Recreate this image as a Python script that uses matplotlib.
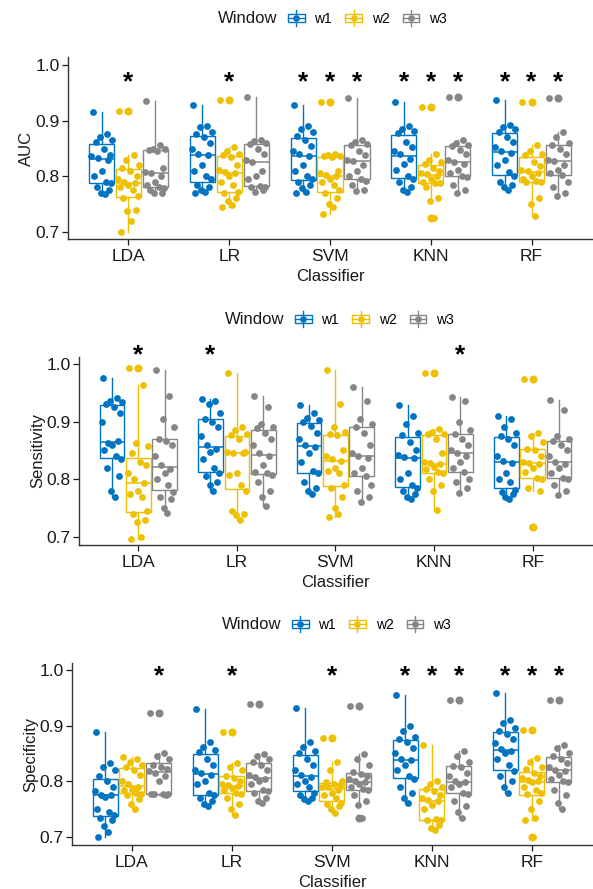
import matplotlib
matplotlib.use('Agg')
import matplotlib.pyplot as plt
from matplotlib.legend_handler import HandlerBase
from matplotlib.patches import Rectangle
from matplotlib.lines import Line2D

plt.rcParams['font.family'] = ['Liberation Sans', 'DejaVu Sans']

classifiers = ['LDA', 'LR', 'SVM', 'KNN', 'RF']
windows = ['w1', 'w2', 'w3']
colors = ['#0073C2', '#EFC000', '#868686']

# AUC per classifier (LDA, LR, SVM, KNN, RF)
auc_w1 = [
    [0.915, 0.876, 0.870, 0.866, 0.862, 0.850, 0.838, 0.836, 0.833, 0.830, 0.810, 0.800, 0.790, 0.788, 0.780, 0.775, 0.770, 0.768],
    [0.929, 0.890, 0.888, 0.880, 0.876, 0.870, 0.860, 0.850, 0.840, 0.838, 0.820, 0.810, 0.800, 0.795, 0.785, 0.780, 0.775, 0.772, 0.770],
    [0.929, 0.890, 0.885, 0.880, 0.872, 0.865, 0.855, 0.845, 0.840, 0.836, 0.820, 0.810, 0.800, 0.795, 0.790, 0.785, 0.778, 0.772, 0.770],
    [0.934, 0.890, 0.886, 0.882, 0.878, 0.862, 0.852, 0.845, 0.840, 0.832, 0.822, 0.812, 0.800, 0.795, 0.790, 0.780, 0.775, 0.771],
    [0.937, 0.892, 0.888, 0.886, 0.880, 0.870, 0.862, 0.852, 0.846, 0.842, 0.830, 0.820, 0.808, 0.800, 0.790, 0.785, 0.780, 0.775],
]
auc_w2 = [
    [0.918, 0.838, 0.830, 0.820, 0.815, 0.810, 0.800, 0.795, 0.790, 0.788, 0.785, 0.780, 0.775, 0.765, 0.760, 0.740, 0.738, 0.720, 0.700],
    [0.938, 0.853, 0.845, 0.840, 0.838, 0.835, 0.820, 0.812, 0.808, 0.805, 0.800, 0.790, 0.785, 0.772, 0.770, 0.760, 0.755, 0.748, 0.745],
    [0.934, 0.840, 0.838, 0.837, 0.836, 0.835, 0.810, 0.805, 0.803, 0.800, 0.795, 0.790, 0.785, 0.775, 0.770, 0.760, 0.750, 0.745, 0.732],
    [0.924, 0.840, 0.830, 0.825, 0.822, 0.815, 0.810, 0.806, 0.804, 0.800, 0.795, 0.790, 0.788, 0.787, 0.780, 0.760, 0.755, 0.725],
    [0.934, 0.857, 0.845, 0.840, 0.838, 0.825, 0.818, 0.812, 0.809, 0.806, 0.800, 0.795, 0.791, 0.790, 0.789, 0.760, 0.750, 0.728],
]
auc_w3 = [
    [0.935, 0.856, 0.850, 0.849, 0.848, 0.845, 0.815, 0.808, 0.805, 0.800, 0.790, 0.785, 0.780, 0.778, 0.775, 0.770, 0.770],
    [0.942, 0.866, 0.863, 0.860, 0.858, 0.850, 0.840, 0.830, 0.826, 0.810, 0.800, 0.795, 0.782, 0.780, 0.780, 0.775, 0.771],
    [0.941, 0.865, 0.862, 0.858, 0.856, 0.845, 0.838, 0.830, 0.827, 0.820, 0.810, 0.800, 0.795, 0.792, 0.785, 0.775, 0.773],
    [0.943, 0.866, 0.860, 0.857, 0.855, 0.848, 0.840, 0.830, 0.825, 0.822, 0.812, 0.805, 0.800, 0.798, 0.785, 0.775, 0.770],
    [0.941, 0.880, 0.870, 0.860, 0.857, 0.850, 0.840, 0.830, 0.827, 0.820, 0.812, 0.806, 0.803, 0.790, 0.780, 0.770, 0.765],
]

# Sensitivity
sens_w1 = [
    [0.975, 0.940, 0.936, 0.934, 0.930, 0.925, 0.915, 0.900, 0.862, 0.866, 0.860, 0.850, 0.840, 0.835, 0.820, 0.805, 0.780, 0.769],
    [0.939, 0.935, 0.930, 0.915, 0.905, 0.900, 0.890, 0.875, 0.860, 0.853, 0.848, 0.835, 0.820, 0.810, 0.805, 0.795, 0.790, 0.779],
    [0.929, 0.915, 0.906, 0.903, 0.900, 0.892, 0.880, 0.870, 0.860, 0.856, 0.845, 0.830, 0.815, 0.810, 0.795, 0.785, 0.780, 0.775],
    [0.928, 0.910, 0.895, 0.880, 0.876, 0.865, 0.850, 0.842, 0.838, 0.836, 0.810, 0.800, 0.790, 0.785, 0.780, 0.775, 0.770, 0.765],
    [0.909, 0.905, 0.890, 0.880, 0.875, 0.870, 0.860, 0.840, 0.832, 0.828, 0.810, 0.800, 0.795, 0.782, 0.778, 0.775, 0.770, 0.765],
]
sens_w2 = [
    [0.993, 0.963, 0.862, 0.858, 0.845, 0.830, 0.825, 0.810, 0.800, 0.794, 0.780, 0.775, 0.770, 0.745, 0.740, 0.730, 0.725, 0.700, 0.697],
    [0.984, 0.890, 0.885, 0.878, 0.876, 0.870, 0.848, 0.847, 0.846, 0.845, 0.810, 0.808, 0.790, 0.780, 0.745, 0.740, 0.738, 0.730],
    [0.990, 0.930, 0.890, 0.882, 0.878, 0.876, 0.850, 0.840, 0.835, 0.832, 0.820, 0.815, 0.810, 0.790, 0.785, 0.770, 0.750, 0.740, 0.735],
    [0.985, 0.887, 0.882, 0.878, 0.878, 0.870, 0.845, 0.830, 0.828, 0.826, 0.822, 0.818, 0.812, 0.810, 0.800, 0.790, 0.780, 0.746],
    [0.973, 0.880, 0.875, 0.865, 0.852, 0.850, 0.840, 0.830, 0.828, 0.826, 0.820, 0.812, 0.802, 0.800, 0.785, 0.780, 0.718],
]
sens_w3 = [
    [0.990, 0.945, 0.905, 0.890, 0.870, 0.866, 0.860, 0.840, 0.825, 0.818, 0.810, 0.800, 0.790, 0.778, 0.770, 0.765, 0.750, 0.742],
    [0.944, 0.925, 0.895, 0.890, 0.888, 0.880, 0.870, 0.860, 0.845, 0.840, 0.825, 0.812, 0.810, 0.808, 0.795, 0.780, 0.770, 0.754],
    [0.960, 0.935, 0.905, 0.895, 0.890, 0.880, 0.860, 0.845, 0.840, 0.836, 0.820, 0.810, 0.805, 0.790, 0.780, 0.770, 0.760],
    [0.942, 0.935, 0.900, 0.885, 0.878, 0.870, 0.860, 0.850, 0.845, 0.841, 0.830, 0.820, 0.812, 0.800, 0.795, 0.785, 0.776],
    [0.938, 0.920, 0.875, 0.870, 0.866, 0.860, 0.850, 0.840, 0.830, 0.826, 0.820, 0.810, 0.802, 0.800, 0.790, 0.780, 0.773],
]

# Specificity
spec_w1 = [
    [0.889, 0.832, 0.826, 0.820, 0.810, 0.800, 0.790, 0.782, 0.776, 0.775, 0.772, 0.750, 0.745, 0.740, 0.735, 0.730, 0.720, 0.710, 0.700],
    [0.929, 0.870, 0.862, 0.856, 0.852, 0.840, 0.830, 0.820, 0.815, 0.812, 0.800, 0.795, 0.780, 0.775, 0.770, 0.765, 0.760, 0.755],
    [0.932, 0.870, 0.862, 0.855, 0.850, 0.840, 0.830, 0.820, 0.812, 0.808, 0.800, 0.795, 0.790, 0.780, 0.775, 0.770, 0.768, 0.765],
    [0.955, 0.900, 0.890, 0.880, 0.875, 0.870, 0.860, 0.850, 0.840, 0.838, 0.830, 0.820, 0.810, 0.805, 0.790, 0.780, 0.770, 0.761],
    [0.958, 0.910, 0.905, 0.895, 0.890, 0.885, 0.875, 0.868, 0.858, 0.855, 0.850, 0.840, 0.830, 0.818, 0.810, 0.800, 0.790, 0.780],
]
spec_w2 = [
    [0.844, 0.840, 0.835, 0.830, 0.825, 0.820, 0.812, 0.800, 0.795, 0.790, 0.787, 0.785, 0.780, 0.778, 0.775, 0.768, 0.760, 0.750],
    [0.888, 0.832, 0.825, 0.820, 0.810, 0.806, 0.800, 0.795, 0.793, 0.791, 0.788, 0.785, 0.780, 0.778, 0.770, 0.760, 0.750, 0.740],
    [0.878, 0.834, 0.820, 0.800, 0.798, 0.795, 0.792, 0.790, 0.789, 0.785, 0.780, 0.775, 0.770, 0.762, 0.760, 0.755, 0.750, 0.743],
    [0.865, 0.800, 0.795, 0.790, 0.787, 0.782, 0.776, 0.770, 0.766, 0.764, 0.758, 0.750, 0.732, 0.730, 0.730, 0.722, 0.716, 0.713],
    [0.892, 0.841, 0.835, 0.825, 0.822, 0.815, 0.810, 0.806, 0.803, 0.800, 0.798, 0.790, 0.785, 0.780, 0.778, 0.765, 0.750, 0.735, 0.730, 0.700],
]
spec_w3 = [
    [0.923, 0.850, 0.845, 0.840, 0.830, 0.826, 0.822, 0.818, 0.815, 0.810, 0.800, 0.778, 0.778, 0.777, 0.777, 0.776],
    [0.938, 0.849, 0.845, 0.840, 0.834, 0.830, 0.820, 0.812, 0.808, 0.805, 0.800, 0.795, 0.785, 0.782, 0.780, 0.770, 0.765, 0.761],
    [0.935, 0.849, 0.840, 0.830, 0.816, 0.814, 0.810, 0.805, 0.800, 0.798, 0.795, 0.790, 0.786, 0.784, 0.775, 0.765, 0.758, 0.735],
    [0.945, 0.855, 0.845, 0.835, 0.828, 0.825, 0.815, 0.810, 0.800, 0.798, 0.795, 0.790, 0.780, 0.778, 0.765, 0.755, 0.745, 0.734],
    [0.945, 0.866, 0.860, 0.850, 0.845, 0.840, 0.832, 0.825, 0.821, 0.818, 0.812, 0.805, 0.800, 0.798, 0.785, 0.775, 0.762, 0.750],
]

# significance marks (1 = asterisk) per window, in classifier order
auc_sig = [[0, 0, 1, 1, 1], [1, 1, 1, 1, 1], [0, 0, 1, 1, 1]]
sens_sig = [[0, 1, 0, 0, 0], [1, 0, 0, 0, 0], [0, 0, 0, 1, 0]]
spec_sig = [[0, 0, 0, 1, 1], [0, 1, 1, 1, 1], [1, 0, 0, 1, 1]]

# fixed horizontal jitter pattern for the points
JITTER = [-0.09, 0.05, -0.02, 0.10, -0.06, 0.02, 0.08, -0.10, -0.04, 0.06,
          0.00, -0.08, 0.04, 0.09, -0.05, 0.07, -0.01, 0.03, -0.07, 0.01]
OFFSETS = [-0.267, 0.0, 0.267]


class BoxKey(HandlerBase):
    def create_artists(self, legend, orig_handle, xdescent, ydescent,
                       width, height, fontsize, trans):
        c = orig_handle.get_color()
        x0, y0 = -xdescent, -ydescent
        yc = y0 + height / 2
        xc = x0 + width / 2
        top = Line2D([xc, xc], [yc + 0.45 * height, yc + 0.85 * height], color=c, lw=1, transform=trans)
        bot = Line2D([xc, xc], [yc - 0.45 * height, yc - 0.85 * height], color=c, lw=1, transform=trans)
        rect = Rectangle((x0, yc - 0.45 * height), width, 0.9 * height, fc='white', ec=c, lw=1, transform=trans)
        med = Line2D([x0, x0 + width], [yc, yc], color=c, lw=1, transform=trans)
        dot = Line2D([xc], [yc], marker='o', ms=3.8, color=c, lw=0, transform=trans)
        return [top, bot, rect, med, dot]


def draw_panel(ax, groups, sig, ylabel, ylim, star_y, leg_x, leg_y):
    for k in range(3):
        c = colors[k]
        pos = [i + OFFSETS[k] for i in range(len(classifiers))]
        ax.boxplot(groups[k], positions=pos, widths=0.25, patch_artist=True,
                   showcaps=False,
                   boxprops=dict(facecolor='white', edgecolor=c, linewidth=1),
                   medianprops=dict(color=c, linewidth=1.1),
                   whiskerprops=dict(color=c, linewidth=1),
                   flierprops=dict(marker='o', markerfacecolor=c, markeredgecolor=c, markersize=4.8))
        for i, vals in enumerate(groups[k]):
            xs = [pos[i] + JITTER[j % len(JITTER)] for j in range(len(vals))]
            ax.scatter(xs, vals, s=24, color=c, linewidths=0, zorder=3)
            if sig[k][i]:
                ax.annotate('*', xy=(pos[i], star_y), xytext=(0, -5),
                            textcoords='offset points', ha='center', va='center',
                            fontsize=19, fontweight='bold', annotation_clip=False)

    ax.set_xlim(-0.6, 4.6)
    ax.set_ylim(*ylim)
    ax.set_xticks(range(len(classifiers)))
    ax.set_xticklabels(classifiers)
    ax.set_yticks([0.7, 0.8, 0.9, 1.0])
    ax.set_yticklabels(['0.7', '0.8', '0.9', '1.0'])
    ax.tick_params(labelsize=12.5, colors='#1a1a1a', length=4, width=0.9)
    ax.tick_params(axis='y', pad=2)
    ax.set_xlabel('Classifier', fontsize=12, labelpad=3, color='#1a1a1a')
    ax.set_ylabel(ylabel, fontsize=12, labelpad=1, color='#1a1a1a')
    for s in ['top', 'right']:
        ax.spines[s].set_visible(False)
    for s in ['left', 'bottom']:
        ax.spines[s].set_linewidth(1)
        ax.spines[s].set_color('#333333')

    ax.text(leg_x - 0.02, leg_y, 'Window', transform=ax.transAxes, ha='right',
            va='center', fontsize=12, color='#1a1a1a')
    handles = [Line2D([], [], color=c) for c in colors]
    ax.legend(handles, windows, handler_map={Line2D: BoxKey()}, loc='center left',
              bbox_to_anchor=(leg_x, leg_y), ncol=3, frameon=False, fontsize=10,
              handlelength=1.2, handletextpad=0.7, columnspacing=0.95,
              borderpad=0, borderaxespad=0)


fig = plt.figure(figsize=(5.93, 8.89), dpi=100)
ax1 = fig.add_axes([0.1147, 0.7312, 0.8836, 0.2047])
ax2 = fig.add_axes([0.1332, 0.3870, 0.8651, 0.2115])
ax3 = fig.add_axes([0.1214, 0.0495, 0.8769, 0.2047])

draw_panel(ax1, [auc_w1, auc_w2, auc_w3], auc_sig, 'AUC', (0.687, 1.015), 0.982, 0.42, 1.209)
draw_panel(ax2, [sens_w1, sens_w2, sens_w3], sens_sig, 'Sensitivity', (0.686, 1.012), 1.026, 0.421, 1.197)
draw_panel(ax3, [spec_w1, spec_w2, spec_w3], spec_sig, 'Specificity', (0.686, 1.012), 1.0, 0.423, 1.209)

fig.savefig('out.png', dpi=100)
